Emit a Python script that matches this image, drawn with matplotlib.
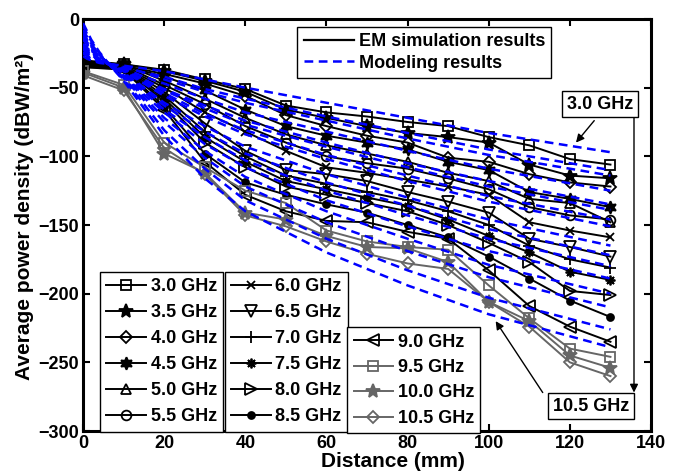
import matplotlib
matplotlib.use('Agg')
import matplotlib.pyplot as plt
from matplotlib.lines import Line2D

plt.rcParams.update({
    'font.family': 'Liberation Sans',
    'font.weight': 'bold',
    'axes.labelweight': 'bold',
    'font.size': 13,
})

# EM simulation results (sampled every 10 mm)
distance = [0, 10, 20, 30, 40, 50, 60, 70, 80, 90, 100, 110, 120, 130]
freqs = ['3.0 GHz', '3.5 GHz', '4.0 GHz', '4.5 GHz', '5.0 GHz', '5.5 GHz',
         '6.0 GHz', '6.5 GHz', '7.0 GHz', '7.5 GHz', '8.0 GHz', '8.5 GHz',
         '9.0 GHz', '9.5 GHz', '10.0 GHz', '10.5 GHz']
em = [
    [-30, -33, -37, -44, -51, -63, -68, -71, -75, -78, -86, -92, -102, -106],
    [-31, -33, -38, -45, -53, -66, -72, -78, -83, -86, -90, -106, -114, -116],
    [-32, -34, -40, -47, -56, -70, -78, -85, -90, -101, -104, -113, -119, -122],
    [-32, -34, -42, -52, -66, -78, -85, -90, -95, -104, -110, -126, -131, -137],
    [-33, -33, -45, -58, -72, -84, -92, -98, -104, -112, -118, -131, -134, -148],
    [-32, -34, -48, -62, -78, -90, -100, -105, -109, -116, -124, -137, -143, -146],
    [-33, -35, -50, -68, -82, -96, -108, -112, -117, -122, -128, -148, -154, -159],
    [-33, -35, -53, -76, -96, -110, -113, -118, -126, -133, -141, -160, -166, -173],
    [-34, -35, -56, -82, -100, -114, -120, -126, -132, -140, -150, -165, -175, -181],
    [-34, -36, -58, -86, -104, -118, -124, -130, -136, -146, -158, -170, -184, -190],
    [-34, -36, -60, -90, -108, -122, -128, -134, -140, -150, -163, -177, -198, -201],
    [-35, -36, -64, -98, -119, -128, -135, -141, -150, -159, -173, -189, -205, -217],
    [-35, -37, -66, -104, -128, -140, -147, -148, -155, -160, -183, -209, -224, -235],
    [-38, -48, -90, -108, -125, -134, -154, -162, -166, -168, -194, -218, -240, -246],
    [-39, -50, -98, -112, -141, -146, -158, -166, -167, -177, -206, -220, -245, -254],
    [-41, -52, -94, -113, -143, -151, -162, -171, -178, -182, -206, -224, -250, -260],
]

# Modeling results
dist_model = [0, 1, 2, 4, 7, 10, 15, 20, 30, 40, 60, 80, 100, 130]
model = [
    [-27, -29, -30, -32, -33, -34, -36, -38, -44, -50, -61, -72, -83, -97],
    [-25, -27, -29, -31, -33, -35, -39, -42, -51, -58, -71, -83, -95, -110],
    [-24, -27, -28, -31, -33, -35, -39, -44, -53, -61, -74, -87, -99, -114],
    [-22, -25, -27, -30, -33, -36, -42, -47, -58, -68, -82, -96, -109, -125],
    [-21, -24, -26, -30, -34, -37, -44, -51, -63, -74, -90, -105, -118, -135],
    [-20, -23, -26, -30, -34, -37, -45, -52, -65, -77, -93, -108, -122, -139],
    [-19, -22, -25, -29, -34, -38, -46, -54, -69, -81, -99, -114, -129, -146],
    [-18, -21, -24, -29, -34, -38, -47, -56, -71, -84, -102, -118, -133, -151],
    [-15, -19, -23, -28, -34, -39, -50, -61, -78, -93, -113, -130, -146, -165],
    [-14, -18, -22, -28, -34, -40, -51, -63, -82, -98, -119, -136, -153, -172],
    [-13, -17, -21, -27, -34, -40, -53, -66, -86, -103, -125, -143, -160, -180],
    [-11, -16, -20, -27, -34, -41, -55, -68, -91, -108, -132, -151, -169, -189],
    [-10, -15, -19, -26, -35, -42, -57, -72, -96, -115, -140, -160, -179, -200],
    [-8, -13, -18, -26, -35, -43, -59, -75, -101, -122, -148, -169, -188, -210],
    [-5, -11, -16, -25, -35, -44, -62, -81, -109, -132, -160, -183, -203, -226],
    [-3, -9, -15, -24, -35, -45, -65, -85, -116, -140, -170, -194, -215, -239],
]

GRAY = '#666666'
# (marker, filled, colour, size)
styles = [
    ('s', False, 'k', 7), ('*', True, 'k', 10), ('D', False, 'k', 6),
    ((6, 1, 0), True, 'k', 9), ('^', False, 'k', 7), ('o', False, 'k', 7),
    ('x', True, 'k', 6), ('v', False, 'k', 8), ('+', True, 'k', 8),
    ((8, 2, 0), True, 'k', 7), ('>', False, 'k', 8), ('o', True, 'k', 5),
    ('<', False, 'k', 8), ('s', False, GRAY, 7), ('*', True, GRAY, 10),
    ('D', False, GRAY, 6),
]

fig = plt.figure(figsize=(6.81, 4.75), dpi=100)
ax = fig.add_axes([0.122, 0.0926, 0.834, 0.8674])

handles = []
for i, name in enumerate(freqs):
    m, filled, c, ms = styles[i]
    fc = c if filled else 'none'
    h, = ax.plot(distance, em[i], '-', color=c, lw=1.4, marker=m, ms=ms,
                 mfc=fc, mec=c, mew=1.3, label=name, zorder=2)
    handles.append(h)
    ax.plot(dist_model, model[i], '--', color='#0000FF', lw=1.8,
            dashes=(3.5, 2.2), zorder=3)

ax.set_xlim(0, 140)
ax.set_ylim(-300, 0)
ax.set_xticks(range(0, 141, 20))
ax.set_yticks(range(-300, 1, 50))
ax.tick_params(direction='in', length=5, width=1.5, top=True, right=True,
               labelsize=13, pad=3)
for s in ax.spines.values():
    s.set_linewidth(2.2)
ax.set_xlabel('Distance (mm)', fontsize=15)
ax.xaxis.set_label_coords(0.546, -0.052)
ax.set_ylabel('Average power density (dBW/m²)', fontsize=15)
ax.yaxis.set_label_coords(-0.086, 0.52)

leg_kw = dict(fontsize=13, fancybox=False, edgecolor='k', framealpha=1,
              handlelength=2.2, handletextpad=0.25, labelspacing=0.47,
              borderpad=0.35, borderaxespad=0, loc='upper left')

top = ax.legend([Line2D([], [], color='k', lw=1.6),
                 Line2D([], [], color='#0000FF', lw=1.8, ls='--', dashes=(3.5, 2.2))],
                ['EM simulation results', 'Modeling results'],
                bbox_to_anchor=(0.377, 0.981), **dict(leg_kw, handlelength=2.8,
                                                       labelspacing=0.25))
top.get_frame().set_linewidth(1.0)
ax.add_artist(top)

l1 = ax.legend(handles[0:6], freqs[0:6], bbox_to_anchor=(0.030, 0.386),
               **dict(leg_kw, labelspacing=0.5))
l1.get_frame().set_linewidth(1.0)
ax.add_artist(l1)
l2 = ax.legend(handles[6:12], freqs[6:12], bbox_to_anchor=(0.249, 0.386),
               **dict(leg_kw, labelspacing=0.5))
l2.get_frame().set_linewidth(1.0)
ax.add_artist(l2)
l3 = ax.legend(handles[12:16], freqs[12:16], bbox_to_anchor=(0.465, 0.252), **leg_kw)
l3.get_frame().set_linewidth(1.0)

box = dict(boxstyle='square,pad=0.25', fc='white', ec='k', lw=1.0)
ax.annotate('', xy=(121.5, -90), xytext=(126, -74),
            arrowprops=dict(arrowstyle='-|>', color='k', lw=1.0, mutation_scale=12,
                            shrinkA=0, shrinkB=0))
ax.annotate('', xy=(135.8, -272), xytext=(135.8, -72),
            arrowprops=dict(arrowstyle='-|>', color='k', lw=1.0, mutation_scale=12,
                            shrinkA=0, shrinkB=0))
ax.text(127.4, -62, '3.0 GHz', ha='center', va='center', fontsize=13, bbox=box, zorder=5)
ax.annotate('', xy=(101.7, -220), xytext=(113.3, -272),
            arrowprops=dict(arrowstyle='-|>', color='k', lw=1.0, mutation_scale=12,
                            shrinkA=0, shrinkB=0))
ax.text(125.2, -282, '10.5 GHz', ha='center', va='center', fontsize=13, bbox=box, zorder=5)

fig.savefig('out.png', dpi=100)
